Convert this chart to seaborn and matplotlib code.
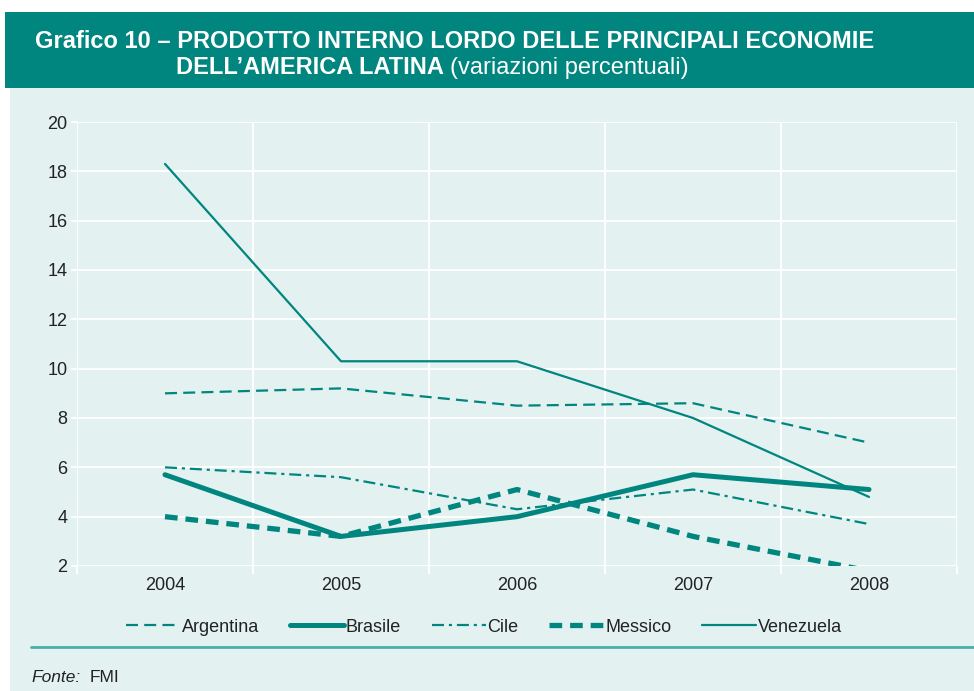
import pandas as pd
import matplotlib
matplotlib.use("Agg")
import matplotlib.pyplot as plt
import seaborn as sns
from matplotlib.patches import Rectangle
from matplotlib.lines import Line2D

# Dati (variazioni percentuali del PIL)
anni = ["2004", "2005", "2006", "2007", "2008"]
argentina = [9.0, 9.2, 8.5, 8.6, 7.0]
brasile = [5.7, 3.2, 4.0, 5.7, 5.1]
cile = [6.0, 5.6, 4.3, 5.1, 3.7]
messico = [4.0, 3.2, 5.1, 3.2, 1.8]
venezuela = [18.3, 10.3, 10.3, 8.0, 4.8]

teal = "#00857f"
sfondo = "#e3f1f0"

sns.set_theme(style="white")
plt.rcParams["font.family"] = ["Liberation Sans", "DejaVu Sans"]

df = pd.DataFrame({"Anno": anni * 5,
                   "Paese": sum([[p] * 5 for p in ["Argentina", "Brasile", "Cile", "Messico", "Venezuela"]], []),
                   "PIL": argentina + brasile + cile + messico + venezuela})

stili = {
    "Argentina": dict(lw=1.6, ls=(0, (5.4, 2.8))),
    "Brasile": dict(lw=3.6, ls="-"),
    "Cile": dict(lw=1.6, ls=(0, (5.4, 2.2, 1.4, 2.2))),
    "Messico": dict(lw=3.8, ls=(0, (2.4, 1.5))),
    "Venezuela": dict(lw=1.6, ls="-"),
}

fig = plt.figure(figsize=(9.74, 6.91), dpi=100)
fig.patch.set_facecolor("white")

# sfondo e fascia del titolo
fig.patches.append(Rectangle((10 / 974, 0), 1, 1 - 88 / 691, transform=fig.transFigure,
                             facecolor=sfondo, edgecolor="none", zorder=-2))
fig.patches.append(Rectangle((5 / 974, 1 - 88 / 691), 1, 76 / 691, transform=fig.transFigure,
                             facecolor=teal, edgecolor="none", zorder=-2))

ax = fig.add_axes([77 / 974, 1 - 566 / 691, 880 / 974, 444 / 691])
ax.set_facecolor(sfondo)

for paese, st in stili.items():
    sub = df[df["Paese"] == paese]
    sns.lineplot(data=sub, x="Anno", y="PIL", ax=ax, color=teal, linewidth=st["lw"],
                 linestyle=st["ls"], label=paese, zorder=3)

if ax.get_legend() is not None:
    ax.get_legend().remove()

ax.set_xlim(-0.5, 4.5)
ax.set_ylim(2, 20)
ax.set_yticks(range(2, 21, 2))
ax.set_xticks(range(5))
ax.set_xticklabels(anni)
ax.set_xticks([i - 0.5 for i in range(6)], minor=True)
ax.set_xlabel("")
ax.set_ylabel("")
for s in ax.spines.values():
    s.set_visible(False)
ax.grid(False)
ax.yaxis.grid(True, color="white", lw=1.3, zorder=1)
ax.xaxis.grid(True, which="minor", color="white", lw=1.3, zorder=1)
ax.tick_params(axis="y", length=4, width=1.3, color="white", labelsize=13, labelcolor="#222222", pad=3, left=True)
ax.tick_params(axis="x", which="major", length=0, labelsize=13, labelcolor="#222222", pad=8)
ax.tick_params(axis="x", which="minor", length=6, width=1.3, color="white", bottom=True)

handles = [Line2D([], [], color=teal, linewidth=st["lw"], linestyle=st["ls"]) for st in stili.values()]
fig.legend(handles, list(stili.keys()), loc="center", bbox_to_anchor=(484 / 974, 1 - 627 / 691),
           ncol=5, frameon=False, fontsize=13, handlelength=3.0, handletextpad=0.1,
           columnspacing=1.7, labelcolor="#222222")

# linea separatrice e fonte
fig.lines.append(Line2D([31 / 974, 1], [1 - 647 / 691] * 2, transform=fig.transFigure,
                        color="#4aaeab", lw=2))
fig.text(31 / 974, 1 - 678 / 691, "Fonte:", fontsize=12.5, style="italic", color="#222222", va="center")
fig.text(90 / 974, 1 - 678 / 691, "FMI", fontsize=12.5, color="#222222", va="center")

# titolo
fig.text(35 / 974, 1 - 41 / 691, "Grafico 10 – PRODOTTO INTERNO LORDO DELLE PRINCIPALI ECONOMIE",
         fontsize=17, fontweight="bold", color="white", va="center")
t = fig.text(176 / 974, 1 - 68 / 691, "DELL’AMERICA LATINA", fontsize=17, fontweight="bold",
             color="white", va="center")
fig.canvas.draw()
bb = t.get_window_extent()
fig.text(bb.x1 / 974 + 6 / 974, 1 - 68 / 691, "(variazioni percentuali)", fontsize=17,
         color="white", va="center")

fig.savefig("out.png", dpi=100, facecolor=fig.get_facecolor())
